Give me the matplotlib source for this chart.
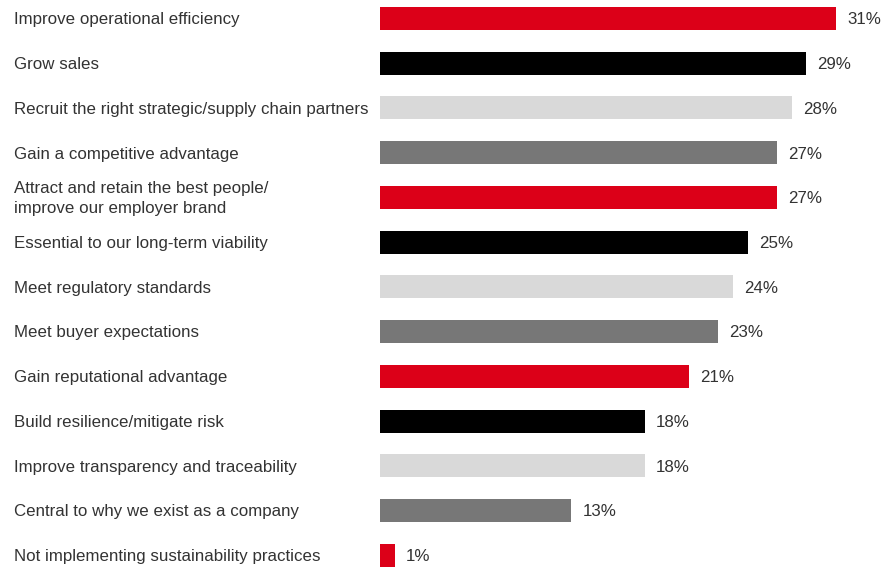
from matplotlib import pyplot as plt
import matplotlib.transforms as mtransforms

# Data
labels = [
    'Improve operational efficiency',
    'Grow sales',
    'Recruit the right strategic/supply chain partners',
    'Gain a competitive advantage',
    'Attract and retain the best people/\nimprove our employer brand',
    'Essential to our long-term viability',
    'Meet regulatory standards',
    'Meet buyer expectations',
    'Gain reputational advantage',
    'Build resilience/mitigate risk',
    'Improve transparency and traceability',
    'Central to why we exist as a company',
    'Not implementing sustainability practices',
]
values = [31, 29, 28, 27, 27, 25, 24, 23, 21, 18, 18, 13, 1]

RED = '#dc0018'
BLACK = '#000000'
LGRAY = '#d9d9d9'
DGRAY = '#777777'
palette = [RED, BLACK, LGRAY, DGRAY]
colors = [palette[i % 4] for i in range(len(values))]

plt.rcParams['font.family'] = ['Liberation Sans', 'DejaVu Sans']

fig = plt.figure(figsize=(8.81, 5.68), dpi=100)
ax = fig.add_axes([380 / 881, 0, 500 / 881, 1])

pos = list(range(len(values)))
ax.barh(pos, values, height=0.514, color=colors)

ax.set_xlim(0, 34)
ax.set_ylim(12.285, -0.414)
ax.axis('off')

trans = mtransforms.blended_transform_factory(fig.transFigure, ax.transData)
for i, lab in enumerate(labels):
    ax.text(14 / 881, i + 0.03, lab, transform=trans, ha='left', va='center',
            fontsize=12.2, color='#333333', linespacing=1.45)

for i, v in enumerate(values):
    ax.annotate('%d%%' % v, xy=(v, i + 0.03), xytext=(8, 0),
                textcoords='offset points', ha='left', va='center',
                fontsize=12.2, color='#333333')

fig.savefig('out.png', dpi=100)
